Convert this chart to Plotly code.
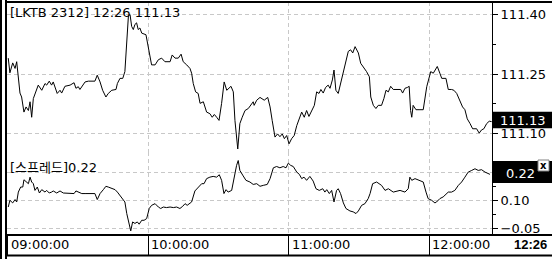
import plotly.graph_objects as go

W, H = 552, 259

# ---- data (minutes after 09:00, values) ----
price_min = [0.2, 0.9, 2.1, 3.1, 3.8, 4.5, 5.2, 5.9, 6.9, 7.8, 8.8, 9.5, 10.2, 10.9, 11.6, 13.0, 14.5, 15.9,
             16.6, 17.7, 18.7, 19.4, 21.1, 22.3, 23.0, 24.4, 26.6, 27.3, 28.3, 29.1, 30.1, 30.8, 33.0, 34.4,
             37.2, 38.2, 39.4, 40.5, 41.9, 42.9, 44.4, 46.2, 46.8, 47.9, 49.1, 50.0, 50.8, 51.5, 52.2, 52.9,
             53.6, 54.3, 55.0, 55.7, 56.4, 57.2, 59.0, 60.0, 61.4, 62.9, 64.3, 65.7, 67.1, 69.3, 70.2, 71.4,
             72.8, 74.0, 74.9, 76.4, 77.8, 78.5, 79.2, 80.2, 81.3, 82.1, 83.5, 84.9, 86.3, 87.3, 88.2, 89.2,
             90.2, 91.3, 92.4, 93.5, 94.2, 95.3, 96.3, 97.0, 98.2, 99.1, 100.1, 101.3, 102.7, 103.8, 104.8,
             105.2, 106.3, 107.7, 108.7, 109.5, 111.0, 112.0, 112.9, 114.1, 115.2, 116.2, 117.2, 118.1, 119.1,
             120.1, 121.2, 122.3, 123.4, 124.8, 125.5, 126.6, 127.6, 128.6, 129.8, 130.9, 131.9, 132.9, 133.7,
             134.7, 135.7, 136.8, 137.6, 138.6, 139.3, 140.1, 141.1, 142.1, 143.3, 144.4, 145.4, 146.4, 147.3,
             148.3, 149.7, 150.7, 151.8, 153.2, 154.4, 155.0, 156.1, 157.2, 158.2, 159.6, 160.6, 161.5, 162.5,
             163.5, 164.6, 166.7, 167.8, 168.6, 169.6, 170.6, 171.4, 172.0, 172.5, 173.1, 174.3, 176.0, 177.4,
             178.9, 180.0, 180.6, 181.7, 182.8, 183.4, 184.5, 185.3, 187.1, 188.1, 189.5, 190.5, 191.7, 193.1,
             194.2, 195.2, 196.2, 197.4, 198.5, 200.2, 201.3, 202.3, 203.3, 204.5, 205.6, 206.6]
price_val = [111.290, 111.253, 111.278, 111.264, 111.281, 111.243, 111.202, 111.192, 111.154, 111.167, 111.158,
             111.180, 111.141, 111.188, 111.201, 111.222, 111.209, 111.226, 111.222, 111.232, 111.222, 111.230,
             111.201, 111.209, 111.202, 111.219, 111.222, 111.225, 111.228, 111.214, 111.218, 111.211, 111.230,
             111.232, 111.232, 111.247, 111.230, 111.209, 111.192, 111.201, 111.209, 111.211, 111.226, 111.239,
             111.239, 111.256, 111.328, 111.396, 111.400, 111.370, 111.362, 111.375, 111.379, 111.362, 111.366,
             111.353, 111.349, 111.319, 111.273, 111.273, 111.286, 111.290, 111.281, 111.281, 111.298, 111.290,
             111.290, 111.300, 111.281, 111.273, 111.264, 111.252, 111.226, 111.205, 111.201, 111.176, 111.180,
             111.154, 111.150, 111.141, 111.148, 111.141, 111.133, 111.176, 111.230, 111.209, 111.214, 111.219,
             111.205, 111.133, 111.061, 111.125, 111.141, 111.158, 111.163, 111.171, 111.180, 111.171, 111.184,
             111.191, 111.188, 111.184, 111.191, 111.167, 111.133, 111.091, 111.099, 111.092, 111.099, 111.087,
             111.095, 111.074, 111.087, 111.095, 111.120, 111.141, 111.154, 111.141, 111.158, 111.143, 111.160,
             111.171, 111.205, 111.201, 111.211, 111.202, 111.216, 111.222, 111.214, 111.235, 111.260, 111.209,
             111.201, 111.226, 111.260, 111.290, 111.307, 111.311, 111.303, 111.319, 111.303, 111.277, 111.269,
             111.256, 111.243, 111.192, 111.171, 111.163, 111.171, 111.171, 111.188, 111.209, 111.205, 111.219,
             111.211, 111.211, 111.211, 111.202, 111.214, 111.216, 111.219, 111.158, 111.141, 111.171, 111.160,
             111.160, 111.160, 111.218, 111.247, 111.256, 111.252, 111.262, 111.269, 111.252, 111.239, 111.239,
             111.211, 111.211, 111.209, 111.201, 111.184, 111.167, 111.160, 111.137, 111.125, 111.112, 111.112,
             111.101, 111.109, 111.112, 111.125, 111.131, 111.130]

spread_min = [0.2, 0.9, 2.1, 3.1, 3.8, 4.5, 5.5, 6.4, 6.9, 7.8, 8.8, 9.5, 10.2, 10.9, 11.6, 12.6, 13.5, 14.5,
              15.9, 16.6, 17.7, 18.7, 19.4, 20.9, 22.3, 23.7, 25.1, 27.3, 28.3, 29.1, 30.1, 31.6, 33.0, 34.4,
              35.8, 37.2, 38.2, 39.4, 40.8, 41.9, 42.9, 44.4, 45.8, 46.8, 47.9, 49.1, 50.0, 50.8, 51.5, 52.5,
              53.3, 54.3, 55.3, 56.1, 57.2, 58.2, 59.3, 60.4, 61.4, 62.9, 64.3, 65.3, 66.4, 67.8, 69.3, 70.7,
              72.1, 73.5, 74.7, 75.7, 76.6, 78.5, 79.9, 81.3, 82.8, 83.8, 84.9, 86.3, 87.7, 89.2, 90.3, 91.3,
              92.3, 93.2, 94.1, 95.6, 96.6, 97.7, 98.4, 99.1, 100.3, 101.7, 103.4, 104.8, 106.3, 107.7, 109.1,
              110.8, 112.0, 113.4, 114.8, 116.2, 117.6, 118.8, 119.8, 120.8, 121.9, 123.4, 124.5, 125.5, 126.5,
              127.6, 129.0, 130.4, 131.6, 133.0, 134.5, 135.4, 136.2, 137.3, 138.3, 139.3, 140.4, 141.1, 142.1,
              143.3, 144.4, 146.1, 147.5, 148.7, 149.7, 151.1, 152.5, 153.9, 154.7, 155.8, 157.5, 159.6, 161.1,
              162.5, 164.6, 167.5, 169.6, 171.0, 171.7, 172.5, 173.9, 176.0, 177.4, 178.6, 179.5, 181.0, 182.4,
              183.1, 184.5, 185.9, 188.1, 189.5, 190.9, 192.4, 193.8, 195.2, 196.6, 198.1, 199.5, 200.9, 202.3,
              203.8, 205.9]
spread_val = [0.064, 0.100, 0.086, 0.104, 0.091, 0.144, 0.171, 0.171, 0.210, 0.198, 0.189, 0.224, 0.198, 0.189,
              0.153, 0.171, 0.139, 0.157, 0.144, 0.153, 0.139, 0.144, 0.150, 0.139, 0.150, 0.139, 0.139, 0.139,
              0.136, 0.150, 0.144, 0.136, 0.136, 0.136, 0.139, 0.136, 0.104, 0.136, 0.157, 0.175, 0.171, 0.162,
              0.157, 0.144, 0.127, 0.109, 0.091, 0.029, -0.007, -0.064, -0.016, -0.024, -0.016, -0.028, -0.007,
              -0.007, 0.002, 0.056, 0.073, 0.082, 0.064, 0.056, 0.064, 0.061, 0.064, 0.061, 0.064, 0.056, 0.068,
              0.082, 0.073, 0.091, 0.150, 0.171, 0.189, 0.189, 0.216, 0.224, 0.228, 0.224, 0.237, 0.207, 0.136,
              0.157, 0.144, 0.153, 0.224, 0.287, 0.313, 0.260, 0.235, 0.207, 0.198, 0.185, 0.189, 0.175, 0.180,
              0.185, 0.216, 0.274, 0.281, 0.274, 0.281, 0.274, 0.299, 0.287, 0.281, 0.251, 0.239, 0.216, 0.224,
              0.207, 0.228, 0.203, 0.162, 0.153, 0.162, 0.144, 0.157, 0.136, 0.153, 0.091, 0.153, 0.162, 0.136,
              0.086, 0.056, 0.043, 0.038, 0.029, 0.043, 0.073, 0.082, 0.109, 0.136, 0.189, 0.198, 0.180, 0.153,
              0.162, 0.144, 0.153, 0.144, 0.162, 0.224, 0.207, 0.216, 0.207, 0.198, 0.144, 0.109, 0.100, 0.086,
              0.091, 0.109, 0.118, 0.144, 0.144, 0.153, 0.180, 0.198, 0.224, 0.251, 0.260, 0.269, 0.260, 0.264,
              0.251, 0.239]

time_ticks = [0, 60, 120, 180]
time_labels = ["09:00:00", "10:00:00", "11:00:00", "12:00:00"]
price_ticks = [111.40, 111.25, 111.10]
price_minor = [111.325, 111.175]
spread_ticks = [0.25, 0.10, -0.05]
spread_ticktext = ["", "0.10", "\u22120.05"]   # 0.25 sits hidden behind the value box
spread_minor = [0.175, 0.025]

title_text = "[LKTB 2312] 12:26 111.13"
spread_title = "[스프레드]0.22"
last_price = "111.13"
last_spread = "0.22"
last_time = "12:26"

FONT = "DejaVu Sans, Noto Sans CJK KR, sans-serif"
GRID = "#c8c8c8"


def fx(px):
    return px / W


def fy(py):
    return 1 - py / H


fig = go.Figure()
fig.add_trace(go.Scatter(x=price_min, y=price_val, mode="lines",
                         line=dict(color="black", width=1), xaxis="x", yaxis="y", showlegend=False))
fig.add_trace(go.Scatter(x=spread_min, y=spread_val, mode="lines",
                         line=dict(color="black", width=1), xaxis="x2", yaxis="y2", showlegend=False))

xrange = [-0.34, 206.77]
common_x = dict(range=xrange, domain=[fx(7), fx(492)], showline=False, zeroline=False,
                showgrid=False, tickvals=time_ticks, showticklabels=False,
                minor=dict(tickvals=[60, 120, 180], showgrid=True, gridcolor=GRID,
                           griddash="4px,3px", gridwidth=1))
yfont = dict(family=FONT, size=13, color="black")

fig.update_layout(
    width=W, height=H, margin=dict(l=0, r=0, t=0, b=0),
    paper_bgcolor="white", plot_bgcolor="white",
    xaxis=dict(**common_x, anchor="y", ticks=""),
    xaxis2=dict(**common_x, anchor="y2", matches="x", ticks="outside", ticklen=20,
                tickcolor="black", tickwidth=1),
    yaxis=dict(domain=[fy(152), fy(2)], range=[111.0534, 111.4315], side="right", anchor="x",
               tickvals=price_ticks, tickformat=".2f", ticks="outside", ticklen=5, tickcolor="black",
               showline=True, linecolor="black", linewidth=1, zeroline=False,
               showgrid=True, gridcolor=GRID, griddash="4px,3px", gridwidth=1, tickfont=yfont,
               minor=dict(tickvals=price_minor, ticks="outside", ticklen=3, tickcolor="black", showgrid=False)),
    yaxis2=dict(domain=[fy(235), fy(152)], range=[-0.0859, 0.3587], side="right", anchor="x2",
                tickvals=spread_ticks, ticktext=spread_ticktext, ticks="outside", ticklen=5, tickcolor="black",
                showline=True, linecolor="black", linewidth=1, zeroline=False,
                showgrid=True, gridcolor=GRID, griddash="4px,3px", gridwidth=1, tickfont=yfont,
                minor=dict(tickvals=spread_minor, ticks="outside", ticklen=3, tickcolor="black", showgrid=False)),
)

shapes = []
# frame lines
shapes.append(dict(type="rect", xref="paper", yref="paper", x0=fx(0), x1=fx(2), y0=0, y1=1,
                   fillcolor="black", line=dict(width=0), layer="above"))
shapes.append(dict(type="rect", xref="paper", yref="paper", x0=fx(5), x1=fx(7), y0=0, y1=1,
                   fillcolor="black", line=dict(width=0), layer="above"))
shapes.append(dict(type="line", xref="paper", yref="paper", x0=fx(5), x1=1, y0=fy(2), y1=fy(2),
                   line=dict(color="black", width=2), layer="above"))
shapes.append(dict(type="line", xref="paper", yref="paper", x0=fx(5), x1=1, y0=fy(235), y1=fy(235),
                   line=dict(color="black", width=2), layer="above"))
shapes.append(dict(type="line", xref="paper", yref="paper", x0=fx(5), x1=1, y0=fy(255.5), y1=fy(255.5),
                   line=dict(color="black", width=2), layer="above"))
# value boxes
shapes.append(dict(type="rect", xref="paper", yref="paper", x0=fx(493), x1=1, y0=fy(128.3), y1=fy(111.7),
                   fillcolor="black", line=dict(width=0), layer="above"))
shapes.append(dict(type="rect", xref="paper", yref="paper", x0=fx(493), x1=1, y0=fy(183), y1=fy(161),
                   fillcolor="black", line=dict(width=0), layer="above"))
shapes.append(dict(type="rect", xref="paper", yref="paper", x0=fx(538), x1=fx(549), y0=fy(171), y1=fy(160),
                   fillcolor="white", line=dict(color="#808080", width=1), layer="above"))
fig.update_layout(shapes=shapes)

ann = []
ann.append(dict(text=title_text, xref="paper", yref="paper", x=fx(8), y=fy(12.5), xanchor="left",
                yanchor="middle", showarrow=False, font=dict(family=FONT, size=13, color="black")))
ann.append(dict(text=spread_title, xref="paper", yref="paper", x=fx(8), y=fy(167.5), xanchor="left",
                yanchor="middle", showarrow=False, font=dict(family=FONT, size=13, color="black")))
ann.append(dict(text=last_price, xref="paper", yref="paper", x=fx(548), y=fy(121), xanchor="right",
                yanchor="middle", showarrow=False, font=dict(family=FONT, size=13, color="white")))
ann.append(dict(text=last_spread, xref="paper", yref="paper", x=fx(537), y=fy(173.5), xanchor="right",
                yanchor="middle", showarrow=False, font=dict(family=FONT, size=13, color="white")))
ann.append(dict(text="<b>x</b>", xref="paper", yref="paper", x=fx(543.5), y=fy(165), xanchor="center",
                yanchor="middle", showarrow=False, font=dict(family="DejaVu Sans", size=10, color="black")))
for t, lab in zip(time_ticks, time_labels):
    ann.append(dict(text=lab, xref="x2", yref="paper", x=t, y=fy(244.5), xanchor="left", xshift=1,
                    yanchor="middle", showarrow=False, font=dict(family=FONT, size=13, color="black")))
ann.append(dict(text="<b>" + last_time + "</b>", xref="paper", yref="paper", x=fx(549), y=fy(244.5),
                xanchor="right", yanchor="middle", showarrow=False,
                font=dict(family="Liberation Sans", size=13, color="black")))
fig.update_layout(annotations=ann)

fig.write_html("out.html")
